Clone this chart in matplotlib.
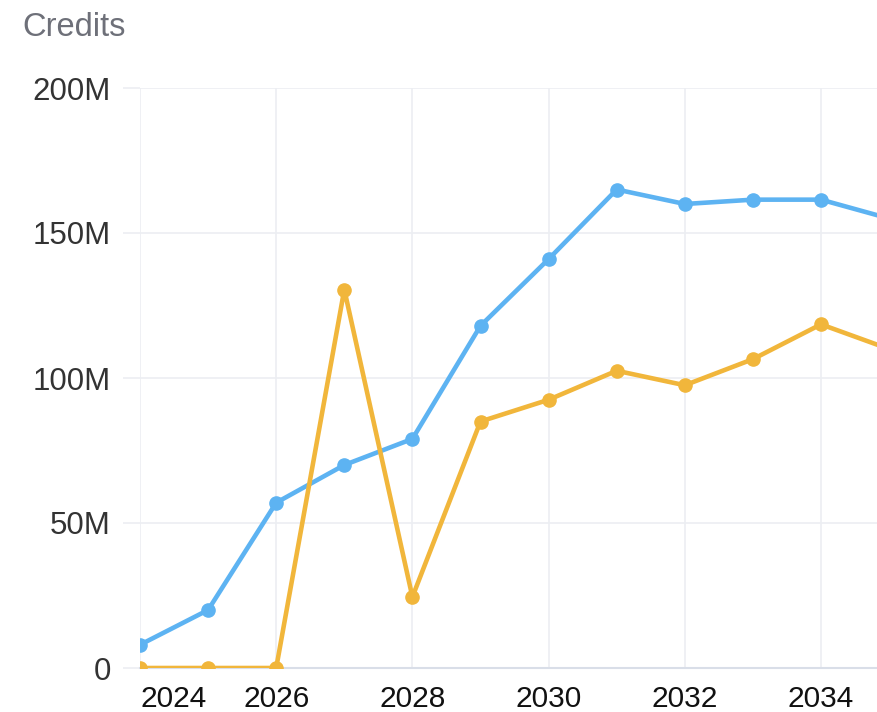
import matplotlib.pyplot as plt
from matplotlib.ticker import FuncFormatter

years = [2024, 2025, 2026, 2027, 2028, 2029, 2030, 2031, 2032, 2033, 2034, 2035]
blue_credits = [8, 20, 57, 70, 79, 118, 141, 165, 160, 161.5, 161.5, 155]
orange_credits = [0, 0, 0, 130.5, 24.5, 85, 92.5, 102.5, 97.5, 106.5, 118.5, 110]
x_ticks = [2024, 2026, 2028, 2030, 2032, 2034]
y_ticks = [0, 50, 100, 150, 200]

BLUE = "#5db3f2"
ORANGE = "#f1b63b"
GRID = "#eceef2"
AXIS = "#d9dee8"

plt.rcParams["font.family"] = ["Liberation Sans", "DejaVu Sans"]

fig = plt.figure(figsize=(8.77, 7.12), dpi=100)
ax = fig.add_axes([140 / 877, 44 / 712, 737 / 877, 580 / 712])

ax.plot(years, blue_credits, color=BLUE, lw=3.3, marker="o", ms=9.5,
        solid_joinstyle="miter", zorder=3)
ax.plot(years, orange_credits, color=ORANGE, lw=3.3, marker="o", ms=9.5,
        solid_joinstyle="miter", zorder=4)

ax.set_xlim(2024, 2024 + 737 / 68.1)
ax.set_ylim(0, 200)
ax.set_xticks(x_ticks)
ax.set_yticks(y_ticks)
ax.yaxis.set_major_formatter(FuncFormatter(lambda v, _: "0" if v == 0 else f"{v:.0f}M"))

ax.grid(True, color=GRID, lw=1.2)
ax.set_axisbelow(True)
for side in ["top", "right", "left"]:
    ax.spines[side].set_visible(False)
ax.spines["bottom"].set_color(AXIS)
ax.spines["bottom"].set_linewidth(1.5)

ax.tick_params(axis="y", length=12, width=1.2, color=GRID, pad=9,
               labelsize=22.5, labelcolor="#333333")
ax.tick_params(axis="x", length=0, pad=12, labelsize=21.5, labelcolor="#111111")
ax.get_xticklabels()[0].set_horizontalalignment("left")

fig.text(22 / 877, 1 - 27 / 712, "Credits", fontsize=23.5, color="#6e7079",
         ha="left", va="center")

fig.savefig("out.png", dpi=100, facecolor="white")
